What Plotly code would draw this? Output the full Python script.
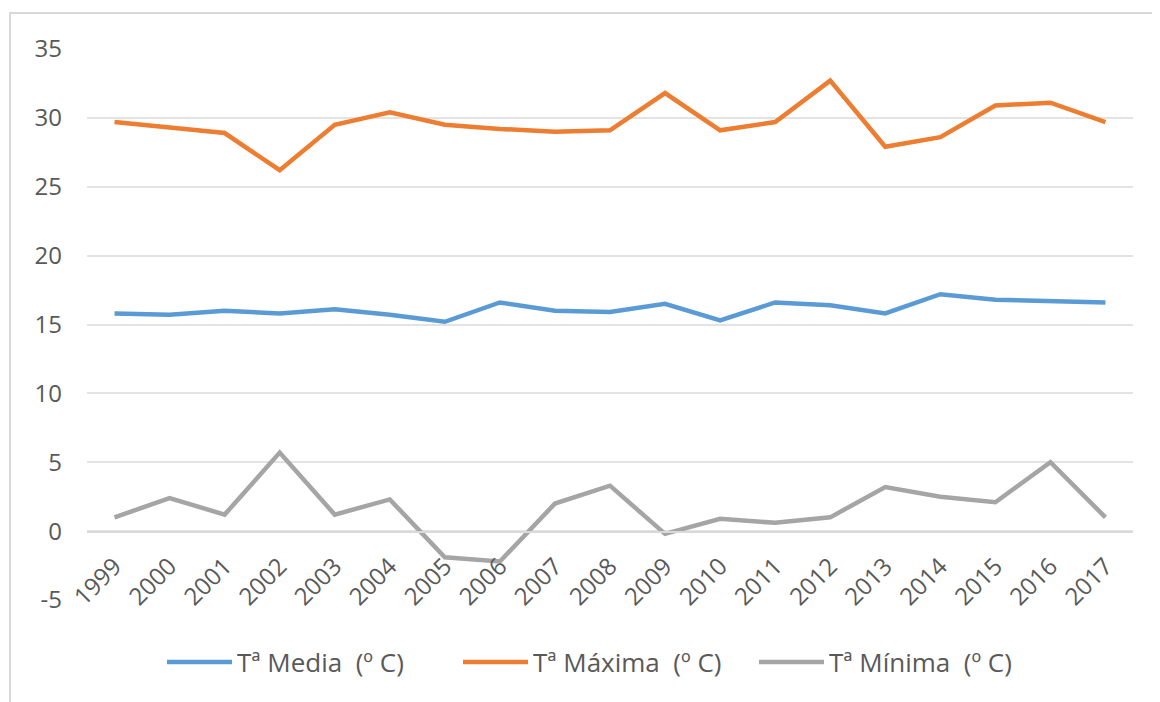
import plotly.graph_objects as go

years = [str(y) for y in range(1999, 2018)]
t_media = [15.8, 15.7, 16.0, 15.8, 16.1, 15.7, 15.2, 16.6, 16.0, 15.9, 16.5, 15.3, 16.6, 16.4, 15.8, 17.2, 16.8, 16.7, 16.6]
t_maxima = [29.7, 29.3, 28.9, 26.2, 29.5, 30.4, 29.5, 29.2, 29.0, 29.1, 31.8, 29.1, 29.7, 32.7, 27.9, 28.6, 30.9, 31.1, 29.7]
t_minima = [1.0, 2.4, 1.2, 5.7, 1.2, 2.3, -1.9, -2.2, 2.0, 3.3, -0.2, 0.9, 0.6, 1.0, 3.2, 2.5, 2.1, 5.0, 1.0]
y_ticks = [-5, 0, 5, 10, 15, 20, 25, 30, 35]
y_ticktext = ["-5", "0", "5", "10", "15", "20", "25", "30", "35"]

names = ["Tª Media  (º C)", "Tª Máxima  (º C)", "Tª Mínima  (º C)"]
colors = ["#5B9BD5", "#ED7D31", "#A5A5A5"]
series = [t_media, t_maxima, t_minima]

fig = go.Figure()
for n, c, s in zip(names, colors, series):
    fig.add_trace(go.Scatter(x=years, y=s, mode="lines", name=n,
                             line=dict(color=c, width=4.5)))

font = dict(family="Open Sans, Lato, sans-serif", size=24, color="#595959")
lfont = dict(family="Open Sans, Lato, sans-serif", size=26, color="#595959")

fig.update_layout(
    width=1160, height=702,
    margin=dict(l=79, r=35, t=41, b=110, autoexpand=False),
    paper_bgcolor="white", plot_bgcolor="white",
    font=font,
    showlegend=True,
    legend=dict(orientation="h", x=(162 - 87) / 1046, xanchor="left", y=-0.1125, yanchor="middle",
                entrywidth=216, itemwidth=65, font=lfont),
    xaxis=dict(type="category", range=[-0.5, 18.5], tickangle=-45, automargin=False,
               anchor="free", position=(600 - 532) / 551,
               showline=True, linecolor="#D9D9D9", linewidth=1.5,
               showgrid=False, ticks="", tickfont=font, ticklabelstandoff=10),
    yaxis=dict(range=[-5, 35], tickvals=y_ticks, ticktext=y_ticktext,
               showgrid=True, gridcolor="#E3E3E3",
               gridwidth=1.5, zeroline=False, showline=False, ticks="", automargin=False,
               tickfont=font, ticklabelstandoff=24),
    shapes=[dict(type="rect", xref="paper", yref="paper",
                 x0=(10 - 87) / 1046, x1=1.1, y0=-0.3, y1=(600 - 13) / 551,
                 line=dict(color="#D9D9D9", width=2), fillcolor="rgba(0,0,0,0)", layer="below")],
)

fig.write_html("out.html")
